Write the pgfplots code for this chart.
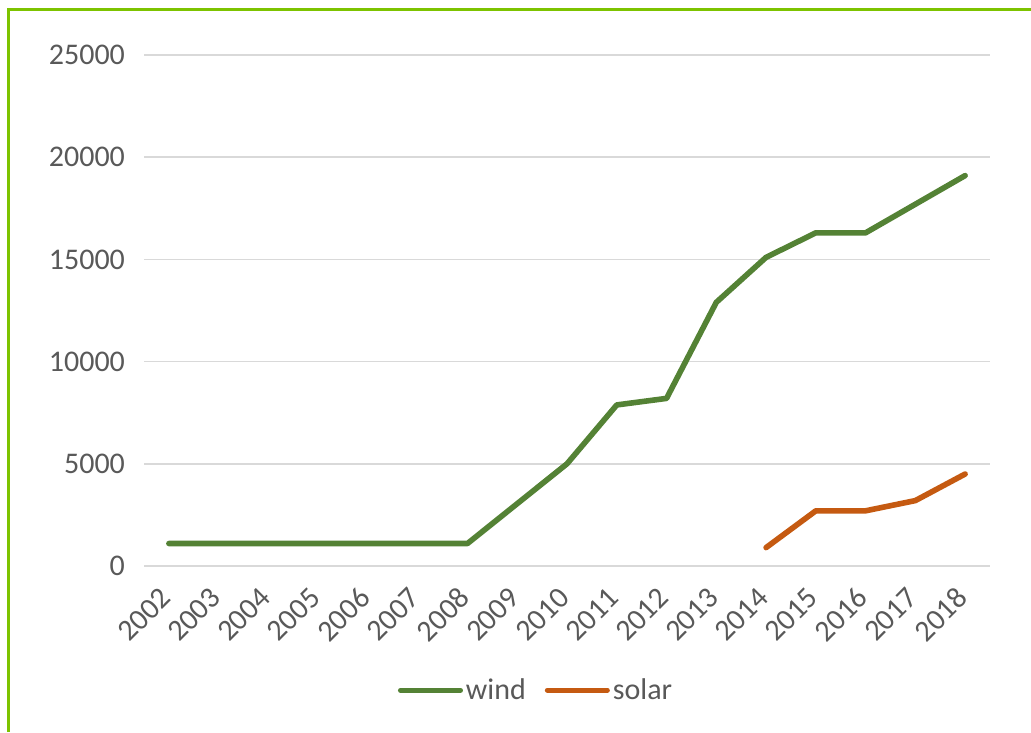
\documentclass[border=0pt]{standalone}
\usepackage{pgfplots}
\pgfplotsset{compat=1.18}
\usepackage{fontspec}
\setmainfont{Carlito}
\definecolor{windc}{HTML}{548235}
\definecolor{solarc}{HTML}{C55A11}
\definecolor{gridc}{HTML}{D9D9D9}
\definecolor{txtc}{HTML}{595959}
\definecolor{framec}{HTML}{7DC300}
\begin{document}
\begin{tikzpicture}[x=0.5pt,y=0.5pt]
\useasboundingbox (0,0) rectangle (1031,732);
\draw[framec,line width=1.5pt] (8,0) -- (8,722) -- (1031,722);
\begin{axis}[
  at={(144pt*0.5,166pt*0.5)}, anchor=south west,
  scale only axis, width=423pt, height=255.5pt,
  xmin=-0.5, xmax=16.5, ymin=0, ymax=25000,
  xtick={0,...,16},
  xticklabels={2002,2003,2004,2005,2006,2007,2008,2009,2010,2011,2012,2013,2014,2015,2016,2017,2018},
  ytick={0,5000,10000,15000,20000,25000},
  scaled y ticks=false,
  axis line style={draw=none},
  axis x line*=bottom,
  x axis line style={draw=gridc, line width=0.8pt},
  tick style={draw=none},
  ymajorgrids, grid style={gridc, line width=0.8pt},
  font=\fontsize{15}{18}\selectfont,
  tick label style={text=txtc},
  /pgf/number format/assume math mode=true,
  /pgf/number format/set thousands separator={},
  yticklabel style={xshift=-6pt},
  xticklabel style={yshift=-11pt, xshift=1pt, rotate=45, anchor=east},
  legend style={at={(0.464,-0.243)}, anchor=center, draw=none, legend columns=2,
    font=\fontsize{15}{18}\selectfont, text=txtc,
    nodes={inner sep=1.5pt},
    /tikz/every even column/.append style={column sep=8pt}},
  legend image code/.code={\draw[#1, line width=2.5pt, line cap=round] (0pt,0pt) -- (30pt,0pt);},
]
\addplot[windc, line width=2.8pt, line join=round, line cap=round] coordinates {
(0,1100)(1,1100)(2,1100)(3,1100)(4,1100)(5,1100)(6,1100)(7,3050)(8,5000)(9,7880)(10,8200)(11,12900)(12,15100)(13,16300)(14,16300)(15,17700)(16,19100)};
\addlegendentry{wind}
\addplot[solarc, line width=2.8pt, line join=round, line cap=round] coordinates {
(12,900)(13,2700)(14,2700)(15,3200)(16,4500)};
\addlegendentry{solar}
\end{axis}
\end{tikzpicture}
\end{document}
